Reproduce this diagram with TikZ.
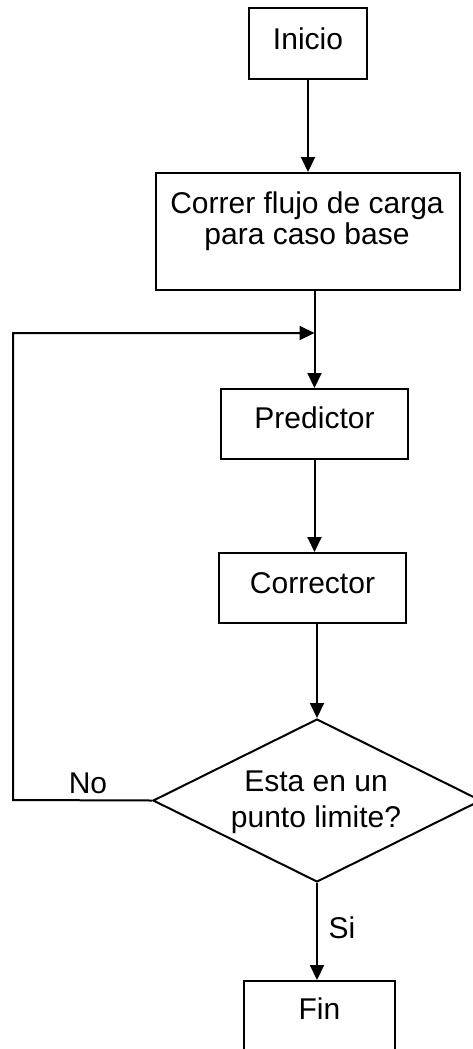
\documentclass[tikz,border=0pt]{standalone}
\usepackage{fontspec}
\setmainfont{Liberation Sans}
\usetikzlibrary{shapes.geometric,arrows.meta}
\begin{document}
\begin{tikzpicture}[x=1pt,y=1pt,
  every node/.style={font=\fontsize{30}{31}\selectfont},
  box/.style={draw, line width=2pt, rectangle, inner sep=0pt, anchor=north west, align=center},
  lbl/.style={anchor=base, inner sep=0pt},
  arr/.style={line width=2pt, -{Triangle[length=15pt,width=14pt]}},
  ln/.style={line width=2pt}]
\useasboundingbox (0,0) rectangle (473,-1049);
\clip (0,0) rectangle (473,-1049);
% boxes
\node[box, minimum width=118pt, text height=41pt, text depth=30pt] (inicio) at (248,-7) {Inicio};
\node[box, minimum width=304pt, minimum height=117pt] (correr) at (155,-172) {};
\node[lbl] (correr1) at (307,-213) {Correr flujo de carga};
\node[lbl] (correr2) at (307,-244) {para caso base};
\node[box, minimum width=187pt, text height=39pt, text depth=31pt] (pred) at (220,-388) {Predictor};
\node[box, minimum width=187pt, text height=40pt, text depth=30pt] (corr) at (218,-552) {Corrector};
\node[diamond, draw, line width=2pt, minimum width=328pt, minimum height=163pt, inner sep=0pt] (dia) at (317,-800.5) {};
\node[lbl] (dia1) at (316,-791) {Esta en un};
\node[lbl] (dia2) at (316,-827) {punto limite?};
\node[box, minimum width=151pt, text height=38pt, text depth=42pt] (fin) at (243,-980) {Fin};
% connectors
\coordinate (join) at (pred.north |- 0,-333);
\coordinate (loopc) at (13,-800);
\draw[arr] (inicio.south) -- (inicio.south |- correr.north);
\draw[arr] (pred.north |- correr.south) -- (pred.north);
\draw[arr] (pred.south) -- (pred.south |- corr.north);
\draw[arr] (dia.north |- corr.south) -- (dia.north);
\draw[arr] (dia.south) -- (dia.south |- fin.north);
\draw[arr] (dia.west) -- (loopc) |- (join);
\node[lbl] (no) at (88,-793) {No};
\node[lbl] (si) at (342,-938) {Si};
\end{tikzpicture}
\end{document}
